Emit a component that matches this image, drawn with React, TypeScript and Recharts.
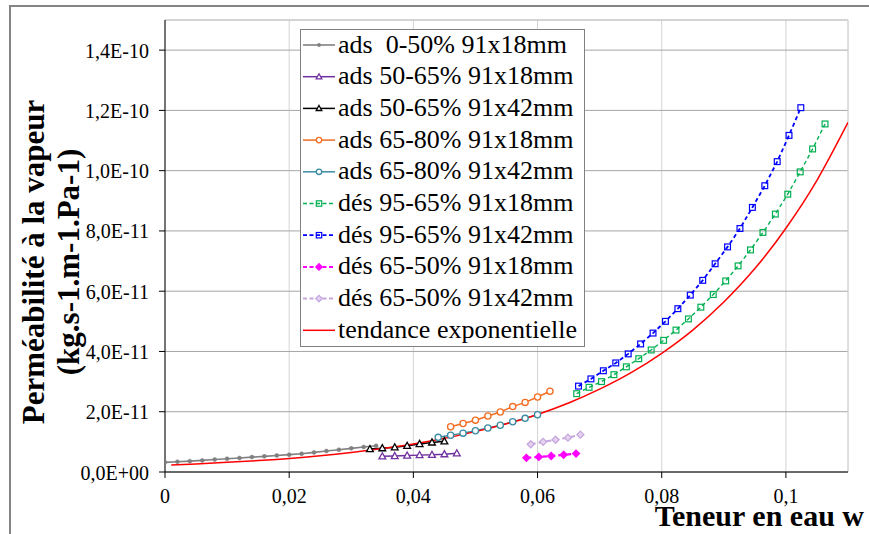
import React from 'react';
import { LineChart, Line, XAxis, YAxis, CartesianGrid, ReferenceLine, Legend } from 'recharts';

// ---- axis ticks ----
const xTicks = [0, 0.02, 0.04, 0.06, 0.08, 0.1];
const xTickLabels = ['0', '0,02', '0,04', '0,06', '0,08', '0,1'];
// y values are expressed in units of 1E-12 kg.s-1.m-1.Pa-1
const yTicks = [0, 20, 40, 60, 80, 100, 120, 140];
const yTickLabels = ['0,0E+00', '2,0E-11', '4,0E-11', '6,0E-11', '8,0E-11', '1,0E-10', '1,2E-10', '1,4E-10'];

// ---- series data (x = teneur en eau, y = permeabilite x 1E-12) ----
const ads050_18_x = [0, 0.002, 0.004, 0.006, 0.008, 0.01, 0.012, 0.014, 0.016, 0.018, 0.02, 0.022, 0.024, 0.026, 0.028, 0.03, 0.032, 0.034];
const ads050_18_y = [3.2, 3.4, 3.6, 3.85, 4.15, 4.4, 4.65, 4.95, 5.2, 5.5, 5.75, 6.05, 6.5, 6.95, 7.4, 7.85, 8.3, 8.7];

const ads5065_18_x = [0.035, 0.037, 0.039, 0.041, 0.043, 0.045, 0.047];
const ads5065_18_y = [5.2, 5.3, 5.45, 5.6, 5.7, 5.9, 6.2];

const ads5065_42_x = [0.033, 0.035, 0.037, 0.039, 0.041, 0.043, 0.045];
const ads5065_42_y = [7.6, 7.9, 8.2, 8.7, 9.3, 9.8, 10.2];

const ads6580_18_x = [0.046, 0.048, 0.05, 0.052, 0.054, 0.056, 0.058, 0.06, 0.062];
const ads6580_18_y = [15.0, 16.1, 17.2, 18.6, 19.9, 21.7, 23.1, 24.9, 26.8];

const ads6580_42_x = [0.044, 0.046, 0.048, 0.05, 0.052, 0.054, 0.056, 0.058, 0.06];
const ads6580_42_y = [11.5, 12.2, 12.9, 13.7, 14.6, 15.5, 16.7, 17.8, 19.0];

const des9565_18_x = [0.0663, 0.0683, 0.0703, 0.0723, 0.0743, 0.0763, 0.0783, 0.0803, 0.0823, 0.0843, 0.0863, 0.0883, 0.0903, 0.0923, 0.0943, 0.0963, 0.0983, 0.1003, 0.1023, 0.1043, 0.1063];
const des9565_18_y = [26.0, 28.1, 30.0, 32.3, 34.9, 37.6, 40.5, 43.7, 47.1, 50.8, 54.7, 58.9, 63.4, 68.4, 73.7, 79.5, 85.6, 92.2, 99.6, 107.2, 115.5];

const des9565_42_x = [0.0666, 0.0686, 0.0706, 0.0726, 0.0746, 0.0766, 0.0786, 0.0806, 0.0826, 0.0846, 0.0866, 0.0886, 0.0906, 0.0926, 0.0946, 0.0966, 0.0986, 0.1005, 0.1024];
const des9565_42_y = [28.5, 30.9, 33.6, 36.2, 39.2, 42.5, 46.1, 50.0, 54.2, 58.7, 63.6, 69.1, 74.7, 80.8, 87.8, 95.0, 103.0, 111.7, 120.9];

const des6550_18_x = [0.0582, 0.0602, 0.0622, 0.0642, 0.0662];
const des6550_18_y = [4.7, 5.0, 5.3, 5.7, 6.1];

const des6550_42_x = [0.0589, 0.0609, 0.0629, 0.0649, 0.0669];
const des6550_42_y = [9.2, 10.0, 10.7, 11.4, 12.4];

const trend_x = [0.001, 0.005, 0.01, 0.015, 0.02, 0.025, 0.03, 0.035, 0.04, 0.045, 0.05, 0.055, 0.06, 0.065, 0.07, 0.075, 0.08, 0.085, 0.09, 0.095, 0.1, 0.105, 0.11];
const trend_y = [2.3, 2.65, 3.2, 3.8, 4.5, 5.4, 6.5, 7.8, 9.3, 11.2, 13.4, 16.0, 19.1, 22.9, 27.5, 32.9, 39.4, 47.1, 56.4, 67.5, 80.9, 96.8, 116];

const FONT = '"Liberation Serif", "Times New Roman", serif';

const toPoints = (xs: number[], ys: number[]) => xs.map((x, i) => ({ x, y: ys[i] }));

type Shape = 'dot' | 'tri' | 'circle' | 'square' | 'diamond' | 'none';

interface SeriesDef {
  name: string;
  data: { x: number; y: number }[];
  color: string;
  width: number;
  dash?: string;
  shape: Shape;
  fill: string;
  curve: 'linear' | 'monotone';
}

const series: SeriesDef[] = [
  { name: 'ads\u00a0 0-50% 91x18mm', data: toPoints(ads050_18_x, ads050_18_y), color: '#808080', width: 1.6, shape: 'dot', fill: '#808080', curve: 'linear' },
  { name: 'ads 50-65% 91x18mm', data: toPoints(ads5065_18_x, ads5065_18_y), color: '#7030A0', width: 1.5, shape: 'tri', fill: '#ffffff', curve: 'linear' },
  { name: 'ads 50-65% 91x42mm', data: toPoints(ads5065_42_x, ads5065_42_y), color: '#000000', width: 1.5, shape: 'tri', fill: '#ffffff', curve: 'linear' },
  { name: 'ads 65-80% 91x18mm', data: toPoints(ads6580_18_x, ads6580_18_y), color: '#F26D21', width: 1.5, shape: 'circle', fill: '#ffffff', curve: 'linear' },
  { name: 'ads 65-80% 91x42mm', data: toPoints(ads6580_42_x, ads6580_42_y), color: '#3A8BA3', width: 1.5, shape: 'circle', fill: '#ffffff', curve: 'linear' },
  { name: 'dés 95-65% 91x18mm', data: toPoints(des9565_18_x, des9565_18_y), color: '#00B050', width: 1.4, dash: '4 3', shape: 'square', fill: 'none', curve: 'linear' },
  { name: 'dés 95-65% 91x42mm', data: toPoints(des9565_42_x, des9565_42_y), color: '#0000FF', width: 1.8, dash: '4 3', shape: 'square', fill: 'none', curve: 'linear' },
  { name: 'dés 65-50% 91x18mm', data: toPoints(des6550_18_x, des6550_18_y), color: '#FF00FF', width: 2.2, dash: '5 3', shape: 'diamond', fill: '#FF00FF', curve: 'linear' },
  { name: 'dés 65-50% 91x42mm', data: toPoints(des6550_42_x, des6550_42_y), color: '#C6A6DE', width: 2, dash: '5 3', shape: 'diamond', fill: '#E3D2F0', curve: 'linear' },
  { name: 'tendance exponentielle', data: toPoints(trend_x, trend_y), color: '#FF0000', width: 1.5, shape: 'none', fill: 'none', curve: 'monotone' },
];

function Marker({ shape, cx, cy, color, fill, s }: { shape: Shape; cx: number; cy: number; color: string; fill: string; s: number }) {
  switch (shape) {
    case 'dot':
      return <circle cx={cx} cy={cy} r={s} fill={fill} stroke={color} strokeWidth={0.5} />;
    case 'tri':
      return (
        <path
          d={`M${cx},${cy - s * 1.05}L${cx + s},${cy + s * 0.75}L${cx - s},${cy + s * 0.75}Z`}
          fill={fill}
          stroke={color}
          strokeWidth={1.3}
        />
      );
    case 'circle':
      return <circle cx={cx} cy={cy} r={s} fill={fill} stroke={color} strokeWidth={1.3} />;
    case 'square':
      return <rect x={cx - s} y={cy - s} width={2 * s} height={2 * s} fill={fill} stroke={color} strokeWidth={1.2} />;
    case 'diamond':
      return (
        <path d={`M${cx},${cy - s}L${cx + s},${cy}L${cx},${cy + s}L${cx - s},${cy}Z`} fill={fill} stroke={color} strokeWidth={1.3} />
      );
    default:
      return null;
  }
}

const dataSize: Record<Shape, number> = { dot: 2, tri: 3.4, circle: 3.1, square: 2.9, diamond: 3.5, none: 0 };
const legendSize: Record<Shape, number> = { dot: 1.7, tri: 2.8, circle: 2.7, square: 2.7, diamond: 3.2, none: 0 };

function makeDot(s: SeriesDef) {
  if (s.shape === 'none') return false;
  return (p: any) => {
    if (p.cx == null || p.cy == null) return <g key={`d-${p.index}`} />;
    return (
      <g key={`d-${p.index}`}>
        <Marker shape={s.shape} cx={p.cx} cy={p.cy} color={s.color} fill={s.fill} s={dataSize[s.shape]} />
      </g>
    );
  };
}

function LegendBox() {
  const rowH = 31.7;
  return (
    <svg width={285} height={318} style={{ display: 'block' }}>
      <rect x={0.5} y={0.5} width={284} height={317} fill="#ffffff" stroke="#808080" strokeWidth={1} />
      {series.map((s, i) => {
        const cy = 16 + i * rowH;
        return (
          <g key={s.name}>
            <line x1={3} x2={35} y1={cy} y2={cy} stroke={s.color} strokeWidth={Math.min(s.width, 2)} strokeDasharray={s.dash ? '4 2.5' : undefined} />
            <Marker shape={s.shape} cx={19} cy={cy} color={s.color} fill={s.fill} s={legendSize[s.shape]} />
            <text x={38} y={cy + 7.5} fontFamily={FONT} fontSize={26} fill="#000" style={{ whiteSpace: 'pre' }}>
              {s.name}
            </text>
          </g>
        );
      })}
    </svg>
  );
}

const YTick = (props: any) => {
  const { x, y, payload } = props;
  const idx = yTicks.indexOf(payload.value);
  return (
    <text x={x} y={y + 7.5} textAnchor="end" fontFamily={FONT} fontSize={20} fill="#000">
      {idx >= 0 ? yTickLabels[idx] : ''}
    </text>
  );
};

const XTick = (props: any) => {
  const { x, y, payload } = props;
  const idx = xTicks.indexOf(payload.value);
  return (
    <text x={x} y={y + 25} textAnchor="middle" fontFamily={FONT} fontSize={20} fill="#000">
      {idx >= 0 ? xTickLabels[idx] : ''}
    </text>
  );
};

const YTitle = () => (
  <g>
    <text transform="translate(44,262) rotate(-90)" textAnchor="middle" fontFamily={FONT} fontWeight="bold" fontSize={31} fill="#000">
      Perméabilité à la vapeur
    </text>
    <text transform="translate(79,262) rotate(-90)" textAnchor="middle" fontFamily={FONT} fontWeight="bold" fontSize={31} fill="#000">
      (kg.s-1.m-1.Pa-1)
    </text>
  </g>
);

const XTitle = () => (
  <text x={864} y={526} textAnchor="end" fontFamily={FONT} fontWeight="bold" fontSize={30} fill="#000">
    Teneur en eau w
  </text>
);

export default function App() {
  return (
    <div style={{ position: 'absolute', left: 0, top: 0, width: 869, height: 534, overflow: 'hidden', background: '#fff' }}>
      <div
        style={{
          position: 'absolute',
          left: 9,
          top: 5,
          width: 900,
          height: 600,
          borderTop: '2px solid #858585',
          borderLeft: '2px solid #858585',
        }}
      />
      <div style={{ position: 'absolute', left: 0, top: 0 }}>
        <LineChart width={869} height={534} margin={{ top: 20, right: 21, bottom: 0, left: 0 }}>
          <CartesianGrid horizontal={false} vertical={true} stroke="#d4d4d4" strokeWidth={1} />
          <CartesianGrid horizontal={true} vertical={false} stroke="#a6a6a6" strokeWidth={1} />
          <ReferenceLine y={150} stroke="#d4d4d4" strokeWidth={1} ifOverflow="extendDomain" />
          <ReferenceLine x={0.11} stroke="#d4d4d4" strokeWidth={1} ifOverflow="extendDomain" />
          <XAxis
            type="number"
            dataKey="x"
            domain={[0, 0.11]}
            ticks={xTicks}
            interval={0}
            height={62}
            tickSize={6}
            tickMargin={0}
            axisLine={{ stroke: '#000', strokeWidth: 1 }}
            tickLine={{ stroke: '#000', strokeWidth: 1 }}
            tick={<XTick />}
            allowDataOverflow
            label={() => <XTitle />}
          />
          <YAxis
            type="number"
            dataKey="y"
            domain={[0, 150]}
            ticks={yTicks}
            interval={0}
            width={165}
            tickSize={6}
            tickMargin={10}
            axisLine={{ stroke: '#000', strokeWidth: 1 }}
            tickLine={{ stroke: '#000', strokeWidth: 1 }}
            tick={<YTick />}
            allowDataOverflow
            label={() => <YTitle />}
          />
          <Legend
            layout="vertical"
            align="center"
            verticalAlign="middle"
            wrapperStyle={{ left: 300, top: 29, width: 285, height: 318 }}
            content={() => <LegendBox />}
          />
          {series.map((s) => (
            <Line
              key={s.name}
              name={s.name}
              data={s.data}
              dataKey="y"
              type={s.curve}
              stroke={s.color}
              strokeWidth={s.width}
              strokeDasharray={s.dash}
              dot={makeDot(s) as any}
              activeDot={false}
              isAnimationActive={false}
            />
          ))}
        </LineChart>
      </div>
    </div>
  );
}
